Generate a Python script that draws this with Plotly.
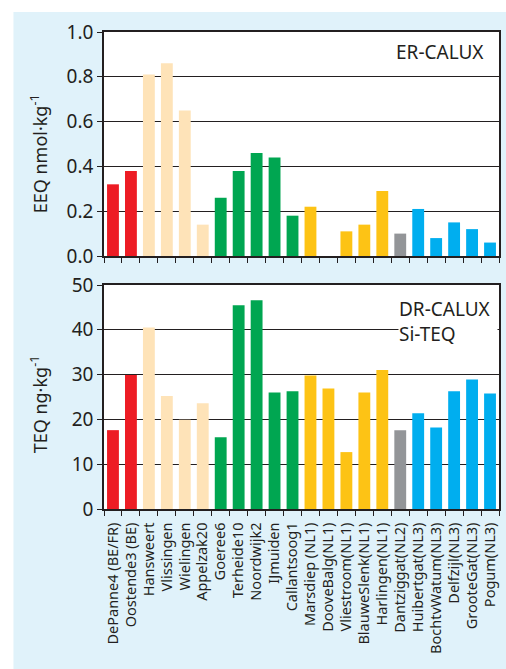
import plotly.graph_objects as go
from plotly.subplots import make_subplots

sites = ["DePanne4 (BE/FR)", "Oostende3 (BE)", "Hansweert", "Vlissingen", "Wielingen",
         "Appelzak20", "Goeree6", "Terheide10", "Noordwijk2", "IJmuiden", "Callantsoog1",
         "Marsdiep (NL1)", "DooveBalg(NL1)", "Vliestroom(NL1)", "BlauweSlenk(NL1)",
         "Harlingen(NL1)", "Dantziggat(NL2)", "Huibertgat(NL3)", "BochtvWatum(NL3)",
         "Delfzijl(NL3)", "GrooteGat(NL3)", "Pogum(NL3)"]

eeq = [0.32, 0.38, 0.81, 0.86, 0.65, 0.14, 0.26, 0.38, 0.46, 0.44, 0.18,
       0.22, None, 0.11, 0.14, 0.29, 0.10, 0.21, 0.08, 0.15, 0.12, 0.06]

teq = [17.6, 29.9, 40.5, 25.2, 19.9, 23.6, 16.0, 45.5, 46.6, 26.0, 26.3,
       29.8, 26.9, 12.7, 26.0, 31.0, 17.6, 21.4, 18.2, 26.3, 28.9, 25.8]

group_colors = ["#ed1c24", "#ed1c24", "#fee3b8", "#fee3b8", "#fee3b8", "#fee3b8",
                "#00a651", "#00a651", "#00a651", "#00a651", "#00a651",
                "#fdc315", "#fdc315", "#fdc315", "#fdc315", "#fdc315",
                "#939598", "#00aeef", "#00aeef", "#00aeef", "#00aeef", "#00aeef"]

ink = "#231f20"
panel = "#e0f2fa"
FONT = "Noto Sans"

W, H = 506, 669
ML, MR, MT, MB = 104, 5, 32, 160
PW, PH = W - ML - MR, H - MT - MB


def px_x(px):
    return (px - ML) / PW


def px_y(py):
    return (H - MB - py) / PH


fig = make_subplots(rows=2, cols=1, shared_xaxes=True, vertical_spacing=29 / PH)

fig.add_trace(go.Bar(x=sites, y=eeq, marker=dict(color=group_colors, line=dict(width=0)),
                     showlegend=False, hoverinfo="x+y"), row=1, col=1)
fig.add_trace(go.Bar(x=sites, y=teq, marker=dict(color=group_colors, line=dict(width=0)),
                     showlegend=False, hoverinfo="x+y"), row=2, col=1)

axis_common = dict(showline=True, mirror=True, linecolor=ink, linewidth=1.5,
                   ticks="outside", tickcolor=ink, ticklen=5, tickwidth=1.2)

fig.update_xaxes(**axis_common, tickson="boundaries", showgrid=False,
                 tickangle=-90, ticklabelstandoff=6,
                 tickfont=dict(family=FONT, size=14.5, color=ink))
fig.update_yaxes(**axis_common, showgrid=True, gridcolor=ink, gridwidth=1,
                 zeroline=False, tickfont=dict(family=FONT, size=19, color=ink))

fig.update_yaxes(range=[0, 1.0], tickvals=[0, 0.2, 0.4, 0.6, 0.8, 1.0],
                 ticktext=["0.0", "0.2", "0.4", "0.6", "0.8", "1.0"], row=1, col=1)
fig.update_yaxes(range=[0, 50], tickvals=[0, 10, 20, 30, 40, 50], row=2, col=1)

# y-axis titles
fig.add_annotation(text="EEQ nmol·kg<sup>-1</sup>", xref="paper", yref="paper",
                   x=px_x(39), y=px_y(154), xanchor="center", yanchor="middle",
                   textangle=-90, showarrow=False, font=dict(family=FONT, size=18, color=ink))
fig.add_annotation(text="TEQ ng·kg<sup>-1</sup>", xref="paper", yref="paper",
                   x=px_x(39), y=px_y(404), xanchor="center", yanchor="middle",
                   textangle=-90, showarrow=False, font=dict(family=FONT, size=18, color=ink))

fig.add_annotation(text="ER-CALUX", xref="paper", yref="y", x=px_x(488), y=0.91,
                   xanchor="right", yanchor="middle", showarrow=False,
                   font=dict(family=FONT, size=19, color=ink))
fig.add_annotation(text="DR-CALUX<br>Si-TEQ", xref="paper", yref="y2", x=px_x(399),
                   y=41.8, xanchor="left", yanchor="middle", showarrow=False, align="left",
                   width=98, bgcolor="white", borderpad=0,
                   font=dict(family=FONT, size=19, color=ink))

# white strips outside the light-blue panel
fig.add_shape(type="rect", xref="paper", yref="paper", layer="below",
              x0=-0.4, x1=px_x(13), y0=-0.5, y1=1.2,
              fillcolor="white", line=dict(width=0))
fig.add_shape(type="rect", xref="paper", yref="paper", layer="below",
              x0=-0.4, x1=1.2, y0=px_y(12), y1=1.2,
              fillcolor="white", line=dict(width=0))

fig.update_layout(width=W, height=H, margin=dict(l=ML, r=MR, t=MT, b=MB),
                  paper_bgcolor=panel, plot_bgcolor="white", bargap=0.34,
                  font=dict(family=FONT, color=ink))

fig.write_html("out.html", config={"displayModeBar": False},
               post_script="document.body.style.margin='0';document.body.style.overflow='hidden';")
